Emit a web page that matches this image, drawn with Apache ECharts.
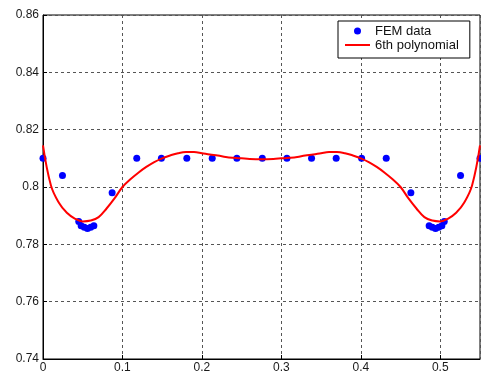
<!DOCTYPE html>
<html>
<head>
<meta charset="utf-8">
<script src="https://cdn.jsdelivr.net/npm/echarts@6/dist/echarts.min.js"></script>
<style>html,body{margin:0;padding:0;background:#fff}#c{width:481px;height:374px}</style>
</head>
<body>
<div id="c"></div>
<script>
// FEM data points
const femX = [0, 0.0245, 0.045, 0.048, 0.052, 0.056, 0.060, 0.064, 0.087, 0.118, 0.149, 0.181, 0.213, 0.244, 0.276, 0.307, 0.338, 0.369, 0.401, 0.432, 0.463, 0.486, 0.490, 0.494, 0.498, 0.502, 0.505, 0.5255, 0.55];
const femY = [0.810, 0.804, 0.788, 0.7865, 0.786, 0.7855, 0.786, 0.7865, 0.798, 0.810, 0.810, 0.810, 0.810, 0.810, 0.810, 0.810, 0.810, 0.810, 0.810, 0.810, 0.798, 0.7865, 0.786, 0.7855, 0.786, 0.7865, 0.788, 0.804, 0.810];
// 6th polynomial curve
const polyX = [0, 0.01, 0.02, 0.03, 0.04, 0.05, 0.06, 0.07, 0.08, 0.09, 0.10, 0.11, 0.12, 0.13, 0.14, 0.15, 0.16, 0.17, 0.18, 0.19, 0.20, 0.21, 0.22, 0.23, 0.24, 0.25, 0.26, 0.275,
               0.29, 0.30, 0.31, 0.32, 0.33, 0.34, 0.35, 0.36, 0.37, 0.38, 0.39, 0.40, 0.41, 0.42, 0.43, 0.44, 0.45, 0.46, 0.47, 0.48, 0.49, 0.50, 0.51, 0.52, 0.53, 0.54, 0.55];
const polyY = [0.8145, 0.8005, 0.7945, 0.791, 0.789, 0.788, 0.7883, 0.7895, 0.7925, 0.796, 0.800, 0.8027, 0.805, 0.807, 0.8087, 0.810, 0.811, 0.8118, 0.8122, 0.8122, 0.8118, 0.8113, 0.811, 0.8105, 0.8102, 0.810, 0.8098, 0.8097,
               0.8098, 0.810, 0.8102, 0.8105, 0.811, 0.8113, 0.8118, 0.8122, 0.8122, 0.8118, 0.811, 0.810, 0.8087, 0.807, 0.805, 0.8027, 0.800, 0.796, 0.7925, 0.7895, 0.7883, 0.788, 0.789, 0.791, 0.7945, 0.8005, 0.8145];
const seriesNames = ['FEM data', '6th polynomial'];
const xTicks = {min: 0, max: 0.55, interval: 0.1};
const yTicks = {min: 0.74, max: 0.86, interval: 0.02};

const chart = echarts.init(document.getElementById('c'), null, {renderer: 'canvas'});
const font = 'Liberation Sans, Arial, sans-serif';
const gridLine = {color: '#555', type: [3, 3], width: 1};
chart.setOption({
  animation: false,
  backgroundColor: '#fff',
  grid: {left: 43, right: 1, top: 15, bottom: 15, show: true, borderColor: '#000', borderWidth: 1, backgroundColor: 'transparent'},
  legend: {
    orient: 'vertical', left: 338, top: 21,
    backgroundColor: '#fff', borderColor: '#000', borderWidth: 1,
    padding: [3, 11, 6, 7], itemGap: 0, itemWidth: 25, itemHeight: 7,
    textStyle: {fontFamily: font, fontSize: 13, lineHeight: 14, color: '#111'},
    data: [
      {name: seriesNames[0], icon: 'circle'},
      {name: seriesNames[1], icon: 'path://M0,0H25V2H0Z'}
    ]
  },
  xAxis: {
    type: 'value', min: xTicks.min, max: xTicks.max, interval: xTicks.interval,
    axisLine: {lineStyle: {color: '#000'}},
    axisTick: {inside: true, length: 4, lineStyle: {color: '#000'}},
    axisLabel: {fontFamily: font, fontSize: 12, color: '#1a1a1a', margin: 3, showMaxLabel: false},
    splitLine: {show: true, lineStyle: gridLine}
  },
  yAxis: {
    type: 'value', min: yTicks.min, max: yTicks.max, interval: yTicks.interval,
    axisLine: {show: true, lineStyle: {color: '#000'}},
    axisTick: {show: true, inside: true, length: 4, lineStyle: {color: '#000'}},
    axisLabel: {fontFamily: font, fontSize: 12, color: '#1a1a1a', margin: 4},
    splitLine: {show: true, lineStyle: gridLine}
  },
  series: [
    {
      name: seriesNames[0], type: 'scatter', symbol: 'circle', symbolSize: 7,
      itemStyle: {color: '#0000ff', opacity: 1},
      data: femX.map((x, i) => [x, femY[i]]), z: 3
    },
    {
      name: seriesNames[1], type: 'line', showSymbol: false, symbol: 'none', smooth: 0.4,
      lineStyle: {color: '#ff0000', width: 2}, itemStyle: {color: '#ff0000'},
      data: polyX.map((x, i) => [x, polyY[i]]), z: 4
    }
  ]
});
</script>
</body>
</html>
